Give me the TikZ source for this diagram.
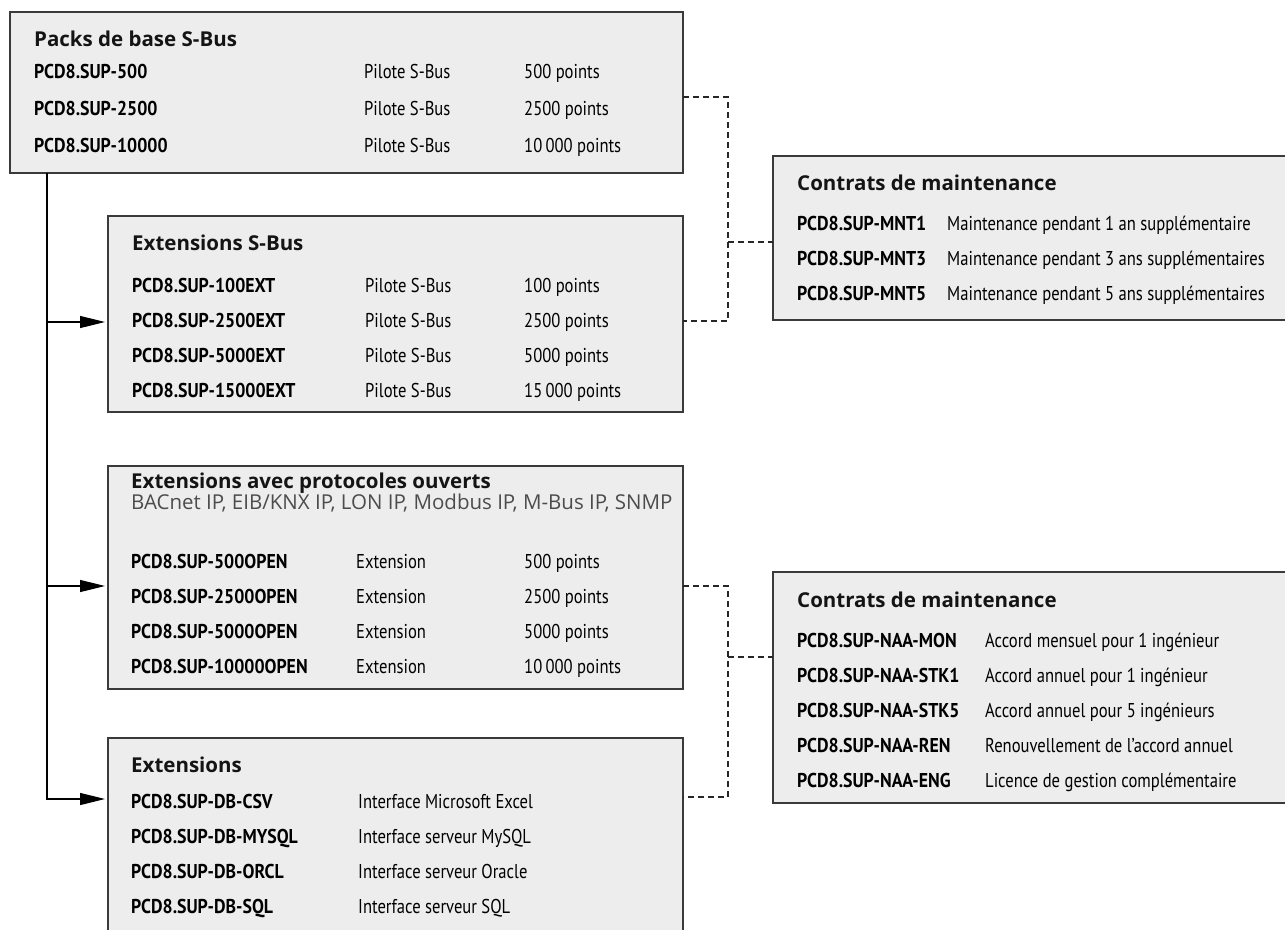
\documentclass[tikz,border=0pt]{standalone}
\usepackage{fontspec}
\setmainfont{PT Sans}
\newfontfamily\condf[FakeStretch=0.83]{PT Sans}
\newfontfamily\boldc[FakeStretch=0.89]{PT Sans Bold}
\newfontfamily\titlef{Open Sans Bold}
\newfontfamily\subf{Open Sans}
\usetikzlibrary{arrows.meta,calc}
\definecolor{boxfill}{HTML}{EDEDED}
\definecolor{boxline}{HTML}{3A3A3A}
\tikzset{
  panel/.style={draw=boxline, line width=1.4pt, fill=boxfill, anchor=north west, inner sep=0pt, outer sep=0pt},
  code/.style={anchor=base west, inner sep=0pt, font=\boldc\fontsize{20}{24}\selectfont},
  desc/.style={anchor=base west, inner sep=0pt, font=\condf\fontsize{20}{24}\selectfont},
  ttl/.style={anchor=base west, inner sep=0pt, font=\titlef\fontsize{20.5}{24}\selectfont, text=black!92},
  sub/.style={anchor=base west, inner sep=0pt, font=\subf\fontsize{20.5}{24}\selectfont, text=black!70},
  conn/.style={draw=black, line width=1.2pt},
  arr/.style={conn, -{Triangle[length=25pt,width=12pt]}},
  dashl/.style={draw=black!85, line width=1.1pt, dash pattern=on 6pt off 4pt}
}
\begin{document}
\begin{tikzpicture}[x=1pt,y=-1pt]
\useasboundingbox (0,0) rectangle (1285,929);
\clip (0,0) rectangle (1285,929);

% panels
\node[panel, minimum width=673pt, minimum height=161pt] (b1) at (10,12) {};
\node[panel, minimum width=575pt, minimum height=196pt] (b2) at (108,216) {};
\node[panel, minimum width=575pt, minimum height=223pt] (b3) at (108,466) {};
\node[panel, minimum width=575pt, minimum height=210pt] (b4) at (108,738) {};
\node[panel, minimum width=520pt, minimum height=164pt] (r1) at (773,156) {};
\node[panel, minimum width=520pt, minimum height=231pt] (r2) at (773,572) {};

% box 1
\node[ttl] (b1t) at (34,46) {Packs de base S-Bus};
\foreach \y/\a/\b/\c [count=\i] in {78/PCD8.SUP-500/Pilote S-Bus/500 points,
    115/PCD8.SUP-2500/Pilote S-Bus/2500 points,
    152/PCD8.SUP-10000/Pilote S-Bus/10\,000 points}{
  \node[code] (b1c\i) at (34,\y) {\a};
  \node[desc] (b1d\i) at (364,\y) {\b};
  \node[desc] (b1e\i) at (524,\y) {\c};
}

% box 2
\node[ttl] (b2t) at (132,250) {Extensions S-Bus};
\foreach \y/\a/\b/\c [count=\i] in {292/PCD8.SUP-100EXT/Pilote S-Bus/100 points,
    327/PCD8.SUP-2500EXT/Pilote S-Bus/2500 points,
    362/PCD8.SUP-5000EXT/Pilote S-Bus/5000 points,
    397/PCD8.SUP-15000EXT/Pilote S-Bus/15\,000 points}{
  \node[code] (b2c\i) at (132,\y) {\a};
  \node[desc] (b2d\i) at (365,\y) {\b};
  \node[desc] (b2e\i) at (524,\y) {\c};
}

% box 3
\node[ttl] (b3t) at (131,488) {Extensions avec protocoles ouverts};
\node[sub] (b3s) at (131,509) {BACnet IP, EIB/KNX IP, LON IP, Modbus IP, M-Bus IP, SNMP};
\foreach \y/\a/\b/\c [count=\i] in {568/PCD8.SUP-500OPEN/Extension/500 points,
    603/PCD8.SUP-2500OPEN/Extension/2500 points,
    638/PCD8.SUP-5000OPEN/Extension/5000 points,
    673/PCD8.SUP-10000OPEN/Extension/10\,000 points}{
  \node[code] (b3c\i) at (131,\y) {\a};
  \node[desc] (b3d\i) at (356,\y) {\b};
  \node[desc] (b3e\i) at (524,\y) {\c};
}

% box 4
\node[ttl] (b4t) at (131,772) {Extensions};
\foreach \y/\a/\b [count=\i] in {808/PCD8.SUP-DB-CSV/Interface Microsoft Excel,
    843/PCD8.SUP-DB-MYSQL/Interface serveur MySQL,
    878/PCD8.SUP-DB-ORCL/Interface serveur Oracle,
    913/PCD8.SUP-DB-SQL/Interface serveur SQL}{
  \node[code] (b4c\i) at (131,\y) {\a};
  \node[desc] (b4d\i) at (358,\y) {\b};
}

% right 1
\node[ttl] (r1t) at (797,190) {Contrats de maintenance};
\foreach \y/\a/\b [count=\i] in {230/PCD8.SUP-MNT1/Maintenance pendant 1 an supplémentaire,
    265/PCD8.SUP-MNT3/Maintenance pendant 3 ans supplémentaires,
    300/PCD8.SUP-MNT5/Maintenance pendant 5 ans supplémentaires}{
  \node[code] (r1c\i) at (797,\y) {\a};
  \node[desc] (r1d\i) at (947,\y) {\b};
}

% right 2
\node[ttl] (r2t) at (797,607) {Contrats de maintenance};
\foreach \y/\a/\b [count=\i] in {647/PCD8.SUP-NAA-MON/Accord mensuel pour 1 ingénieur,
    682/PCD8.SUP-NAA-STK1/Accord annuel pour 1 ingénieur,
    717/PCD8.SUP-NAA-STK5/Accord annuel pour 5 ingénieurs,
    752/PCD8.SUP-NAA-REN/Renouvellement de l’accord annuel,
    787/PCD8.SUP-NAA-ENG/Licence de gestion complémentaire}{
  \node[code] (r2c\i) at (797,\y) {\a};
  \node[desc] (r2d\i) at (985,\y) {\b};
}

% solid tree connectors
\coordinate (trunk) at (47,173);
\coordinate (a2) at (105,322);
\coordinate (a3) at (105,586);
\coordinate (a4) at (105,799);
\draw[arr] (b1.south -| trunk) |- (a4);
\draw[arr] (trunk |- a2) -- (a2);
\draw[arr] (trunk |- a3) -- (a3);

% dashed connectors
\coordinate (ja) at (728,97);
\coordinate (jb) at (728,321);
\coordinate (jc) at (728,242);
\coordinate (jd) at (728,586);
\coordinate (je) at (728,797);
\coordinate (jf) at (728,657);
\draw[dashl] (b1.east |- ja) -- (ja) -- (jb) -- (b2.east |- jb);
\draw[dashl] (jc) -- (r1.west |- jc);
\draw[dashl] (b3.east |- jd) -- (jd) -- (je) -- (b4.east |- je);
\draw[dashl] (jf) -- (r2.west |- jf);
\end{tikzpicture}
\end{document}
